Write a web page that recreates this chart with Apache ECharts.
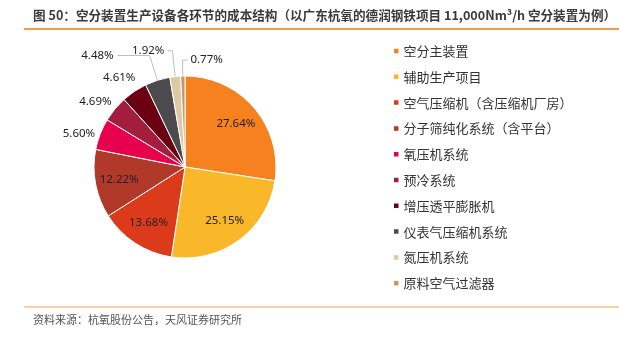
<!DOCTYPE html>
<html>
<head>
<meta charset="utf-8">
<script src="https://cdn.jsdelivr.net/npm/echarts@6/dist/echarts.min.js"></script>
<style>
html,body{margin:0;padding:0;background:#fff;}
#chart{width:619px;height:338px;}
</style>
</head>
<body>
<div id="chart"></div>
<script>
// ---- data ----
const titleText = '图 50：空分装置生产设备各环节的成本结构（以广东杭氧的德润钢铁项目 11,000Nm³/h 空分装置为例）';
const sourceText = '资料来源：杭氧股份公告，天风证券研究所';
const categories = ['空分主装置', '辅助生产项目', '空气压缩机（含压缩机厂房）', '分子筛纯化系统（含平台）', '氧压机系统', '预冷系统', '增压透平膨胀机', '仪表气压缩机系统', '氮压机系统', '原料空气过滤器'];
const shares = [27.64, 25.15, 13.68, 12.22, 5.60, 4.69, 4.61, 4.48, 1.92, 0.77];

// ---- styles ----
const colors = ['#F5821F', '#F9B82A', '#DC3B1B', '#B0392A', '#E6004E', '#A31D3F', '#6A0011', '#4B4B4D', '#DDC9A5', '#C49A63'];
const insideLabelSet = ['空分主装置', '辅助生产项目', '空气压缩机（含压缩机厂房）', '分子筛纯化系统（含平台）'];
// outside label tuning: [labelLine length, length2, distance, showLine]
const outsideTuning = {
  '氧压机系统': [0, 0, 5, false],
  '预冷系统': [12, 0, -6, false],
  '增压透平膨胀机': [16, 0, -10, false],
  '仪表气压缩机系统': [26, 32, 4, true],
  '氮压机系统': [26, 5, 3, true],
  '原料空气过滤器': [16, 5, 3, true]
};
const rightSideLabels = ['原料空气过滤器'];

const labelFont = { fontFamily: 'Noto Sans', fontSize: 11.5, color: '#222' };
const fmt = p => p.value.toFixed(2) + '%';

const outerData = categories.map((name, i) => {
  const t = outsideTuning[name];
  const item = { name: name, value: shares[i], itemStyle: { color: colors[i] } };
  if (t) {
    item.label = { show: true, position: 'outside', distanceToLabelLine: t[2] };
    item.labelLine = { show: t[3], length: t[0], length2: t[1] };
  } else {
    item.label = { show: false };
    item.labelLine = { show: false };
  }
  return item;
});
const innerData = categories.map((name, i) => ({
  name: name, value: shares[i],
  label: { show: insideLabelSet.indexOf(name) >= 0 }
}));

const chart = echarts.init(document.getElementById('chart'), null, { renderer: 'canvas' });
chart.setOption({
  animation: false,
  backgroundColor: '#fff',
  title: {
    text: titleText, left: 33, top: 8.5, padding: 0,
    textStyle: { fontFamily: 'Noto Sans CJK SC', fontSize: 12.6, fontWeight: 'bold', color: '#3a3a3a' }
  },
  legend: {
    orient: 'vertical', left: 392, top: 44.5, padding: 0,
    icon: 'rect', itemWidth: 6.5, itemHeight: 6.5, itemGap: 12.8,
    data: categories,
    textStyle: { fontFamily: 'Noto Sans CJK SC', fontSize: 13, color: '#333', padding: [0, 0, 0, -1] }
  },
  graphic: [
    { type: 'line', shape: { x1: 24, y1: 29, x2: 619, y2: 29 }, style: { stroke: '#F39A4E', lineWidth: 2 } },
    { type: 'line', shape: { x1: 24, y1: 307, x2: 619, y2: 307 }, style: { stroke: '#FBCFA5', lineWidth: 2 } },
    { type: 'text', left: 33, top: 314, style: { text: sourceText, fontFamily: 'Noto Sans CJK SC', fontSize: 11, fill: '#555' } }
  ],
  series: [
    {
      type: 'pie', center: [185, 167], radius: [0, 91], startAngle: 90, clockwise: true,
      avoidLabelOverlap: false,
      itemStyle: { borderColor: '#fff', borderWidth: 1 },
      label: Object.assign({ formatter: fmt }, labelFont),
      labelLine: { lineStyle: { color: '#BFBFBF', width: 1 }, smooth: false },
      emphasis: { disabled: true },
      labelLayout: function (params) {
        const name = categories[params.dataIndex];
        if (rightSideLabels.indexOf(name) < 0) return {};
        const pts = params.labelLinePoints;
        if (!pts || pts.length < 3) return {};
        const p0 = pts[0], p1 = pts[1], p2 = pts[2];
        const x3 = 2 * p1[0] - p2[0];
        return {
          x: x3 + 3, y: p2[1], align: 'left', verticalAlign: 'middle',
          labelLinePoints: [p0, p1, [x3, p2[1]]]
        };
      },
      data: outerData
    },
    {
      type: 'pie', center: [185, 167], radius: [37, 91], startAngle: 90, clockwise: true,
      silent: true, avoidLabelOverlap: false,
      itemStyle: { color: 'rgba(0,0,0,0)', borderWidth: 0 },
      label: Object.assign({ position: 'inside', formatter: fmt }, labelFont),
      labelLine: { show: false },
      emphasis: { disabled: true },
      data: innerData
    }
  ]
});
</script>
</body>
</html>
